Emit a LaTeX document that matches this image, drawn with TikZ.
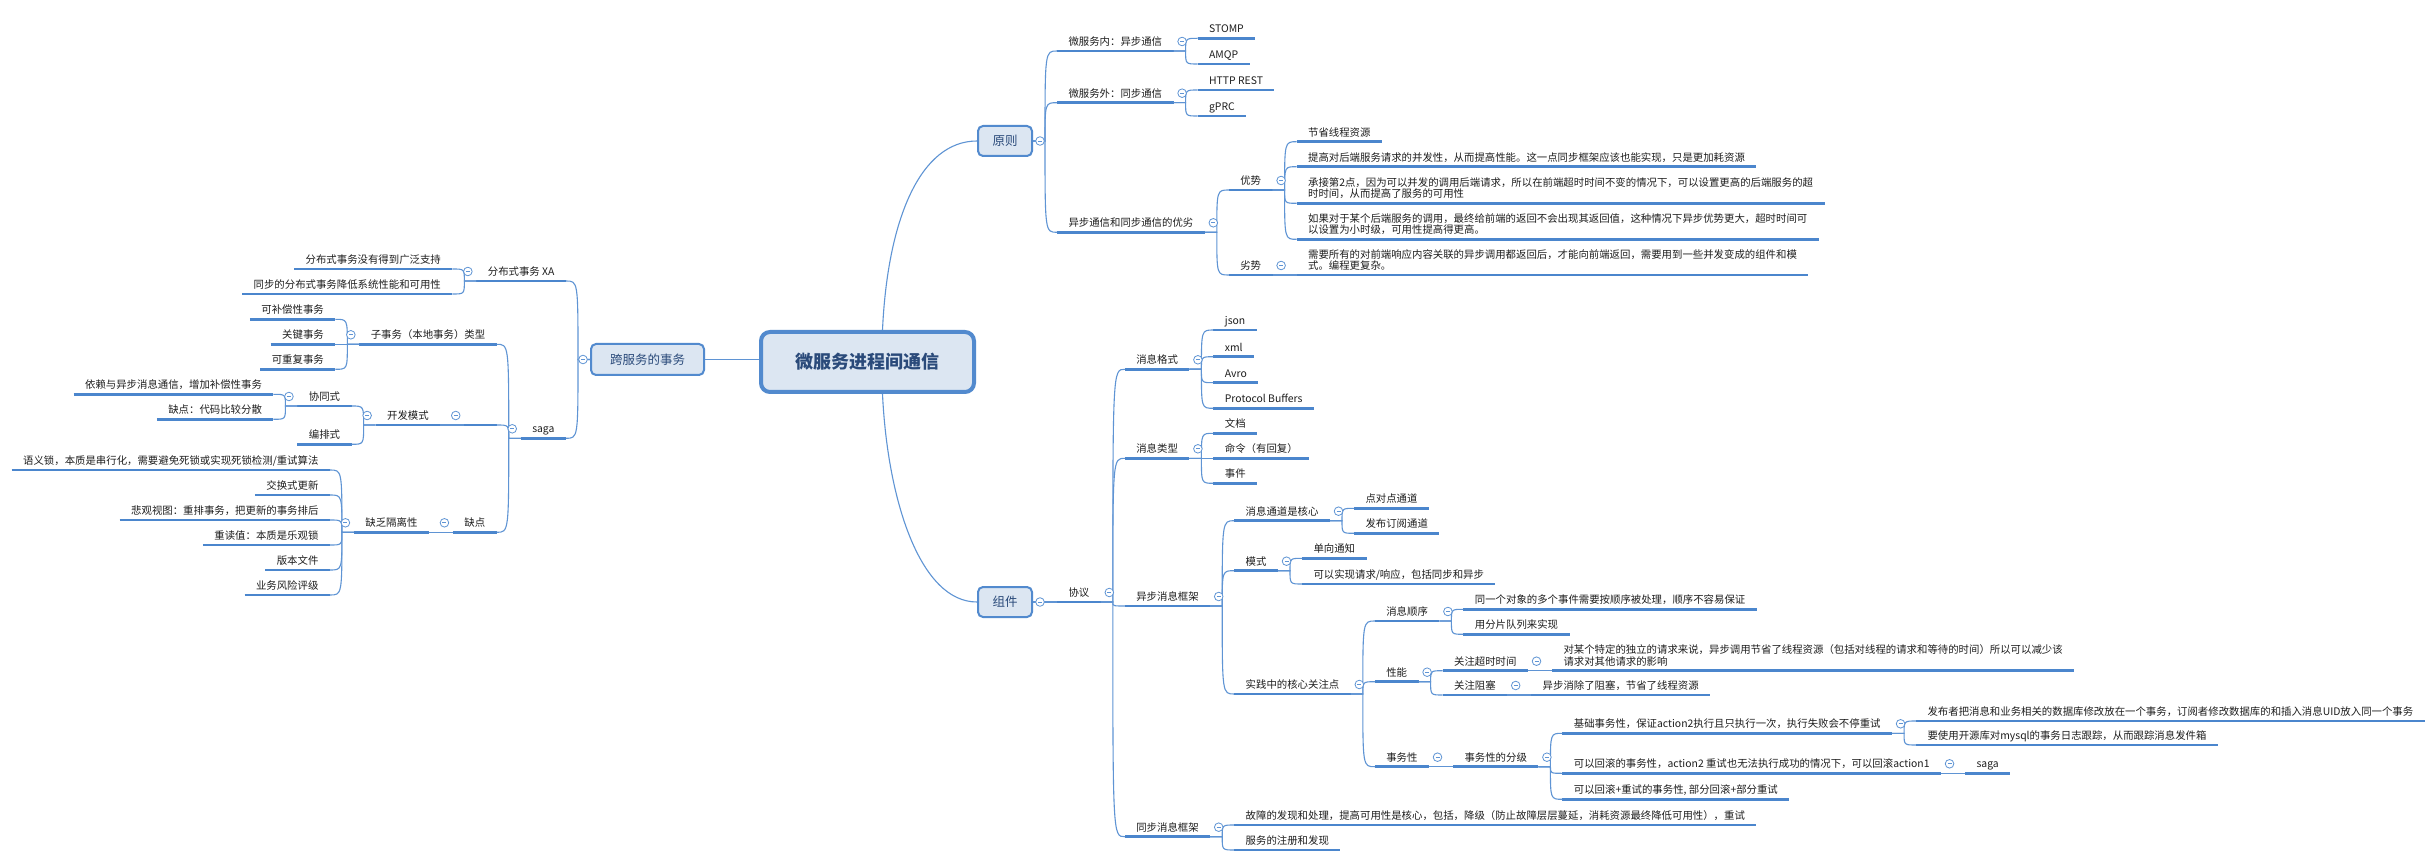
\documentclass[tikz,border=0pt]{standalone}
\usepackage{fontspec}
\newfontfamily\cjk{Noto Sans CJK SC}
\usetikzlibrary{calc}
\definecolor{tline}{RGB}{75,134,205}
\definecolor{cline}{RGB}{95,148,212}
\definecolor{mk}{RGB}{95,148,212}
\definecolor{bblue}{RGB}{82,138,206}
\definecolor{bfill}{RGB}{220,230,242}
\definecolor{ttl}{RGB}{42,74,122}
\definecolor{txt}{RGB}{30,30,30}
\newcommand\tpR[4]{%
  \node[topic, align=left, anchor=south west, xshift=24pt] (#1) at (#2 |- 0,#3) {#4};
  \draw[conn] (#2) to[brR] (#1.south west);}
\newcommand\tpL[4]{%
  \node[topic, align=right, anchor=south east, xshift=-24pt] (#1) at (#2 |- 0,#3) {#4};
  \draw[conn] (#2) to[brL] (#1.south east);}
\newcommand\mkR[1]{\node[marker] (#1-m) at ([shift={(8.5,-9.5)}]#1.south east) {};}
\newcommand\mkL[1]{\node[marker] (#1-m) at ([shift={(-8.5,-9.5)}]#1.south west) {};}
\begin{document}
\begin{tikzpicture}[x=1pt,y=-1pt,
  every node/.style={font=\cjk\fontsize{10.4}{11.5}\selectfont, text=txt},
  topic/.style={inner xsep=11.5pt, inner ysep=2pt, outer sep=0pt, execute at end node=\strut,
     append after command={(\tikzlastnode.south west) edge[uline] (\tikzlastnode.south east)}},
  uline/.style={draw=tline, line width=2.6pt},
  conn/.style={draw=cline, line width=1.1pt},
  brR/.style={to path={-- ++(12,0) coordinate (jn) .. controls (jn |- \tikztotarget) .. (\tikztotarget)}},
  brL/.style={to path={-- ++(-12,0) coordinate (jn) .. controls (jn |- \tikztotarget) .. (\tikztotarget)}},
  marker/.style={circle, draw=mk, fill=white, line width=0.8pt, minimum size=8.6pt, inner sep=0pt, outer sep=0pt,
     path picture={\draw[mk, line width=0.8pt] ([xshift=2.3pt]path picture bounding box.west) -- ([xshift=-2.3pt]path picture bounding box.east);}},
  rootbox/.style={draw=bblue, line width=4pt, fill=bfill, rounded corners=9pt, minimum width=213pt, minimum height=60pt,
     font=\cjk\bfseries\fontsize{18}{20}\selectfont, text=ttl},
  subbox/.style={draw=bblue, line width=2pt, fill=bfill, rounded corners=5pt,
     font=\cjk\fontsize{12.5}{14}\selectfont, text=ttl}]
\useasboundingbox (0,0) rectangle (2428,866);
\fill[white] (0,0) rectangle (2428,866);

% central and main topics
\node[rootbox] (root) at (867.5,362) {微服务进程间通信};
\node[subbox, minimum width=54pt, minimum height=30pt] (yz) at (1005,141) {原则};
\node[subbox, minimum width=54pt, minimum height=30pt] (zj) at (1005,602) {组件};
\node[subbox, minimum width=113pt, minimum height=31pt] (kfw) at (647.5,359.5) {跨服务的事务};
\draw[conn] (root.west |- kfw.east) -- (kfw.east);
\draw[conn] ([xshift=15pt]root.north) .. controls +(5,-110) and +(-57,0) .. (yz.west);
\draw[conn] ([xshift=15pt]root.south) .. controls +(5,106) and +(-57,0) .. (zj.west);

% ---------- 原则 ----------
\tpR{wfn}{yz.east}{51}{微服务内：异步通信}
\tpR{stomp}{wfn.south east}{38.3}{STOMP}
\tpR{amqp}{wfn.south east}{64}{AMQP}
\tpR{wfw}{yz.east}{102.7}{微服务外：同步通信}
\tpR{http}{wfw.south east}{90}{HTTP REST}
\tpR{gprc}{wfw.south east}{116}{gPRC}
\tpR{yb}{yz.east}{232.3}{异步通信和同步通信的优劣}
\tpR{ys}{yb.south east}{190}{优势}
\tpR{a1}{ys.south east}{141.7}{节省线程资源}
\tpR{a2}{ys.south east}{166.7}{提高对后端服务请求的并发性，从而提高性能。这一点同步框架应该也能实现，只是更加耗资源}
\tpR{a3}{ys.south east}{203.3}{承接第2点，因为可以并发的调用后端请求，所以在前端超时时间不变的情况下，可以设置更高的后端服务的超\\时时间，从而提高了服务的可用性}
\tpR{a4}{ys.south east}{239.3}{如果对于某个后端服务的调用，最终给前端的返回不会出现其返回值，这种情况下异步优势更大，超时时间可\\以设置为小时级，可用性提高得更高。}
\tpR{ls}{yb.south east}{275}{劣势}
\tpR{b1}{ls.south east}{275}{需要所有的对前端响应内容关联的异步调用都返回后，才能向前端返回，需要用到一些并发变成的组件和模\\式。编程更复杂。}

% ---------- 组件 ----------
\tpR{xy}{zj.east}{602}{协议}
\tpR{gs}{xy.south east}{369.3}{消息格式}
\tpR{json}{gs.south east}{330}{json}
\tpR{xml}{gs.south east}{356.7}{xml}
\tpR{avro}{gs.south east}{382.7}{Avro}
\tpR{pb}{gs.south east}{408.3}{Protocol Buffers}
\tpR{lx}{xy.south east}{458.3}{消息类型}
\tpR{wd}{lx.south east}{433.3}{文档}
\tpR{ml}{lx.south east}{458.3}{命令（有回复）}
\tpR{sjn}{lx.south east}{483.3}{事件}
\tpR{ybk}{xy.south east}{606}{异步消息框架}
\tpR{td}{ybk.south east}{520.7}{消息通道是核心}
\tpR{p2p}{td.south east}{508.3}{点对点通道}
\tpR{pub}{td.south east}{533.3}{发布订阅通道}
\tpR{ms}{ybk.south east}{570.7}{模式}
\tpR{dx}{ms.south east}{558.3}{单向通知}
\tpR{qq}{ms.south east}{584}{可以实现请求/响应，包括同步和异步}
\tpR{sj}{ybk.south east}{694}{实践中的核心关注点}
\tpR{sx}{sj.south east}{621}{消息顺序}
\tpR{sx1}{sx.south east}{609.3}{同一个对象的多个事件需要按顺序被处理，顺序不容易保证}
\tpR{sx2}{sx.south east}{634.3}{用分片队列来实现}
\tpR{xn}{sj.south east}{681.7}{性能}
\tpR{cs}{xn.south east}{670.7}{关注超时时间}
\tpR{cs1}{cs.south east}{670.7}{对某个特定的独立的请求来说，异步调用节省了线程资源（包括对线程的请求和等待的时间）所以可以减少该\\请求对其他请求的影响}
\tpR{zs}{xn.south east}{695}{关注阻塞}
\tpR{zs1}{zs.south east}{695}{异步消除了阻塞，节省了线程资源}
\tpR{sw}{sj.south east}{766.7}{事务性}
\tpR{fj}{sw.south east}{766.7}{事务性的分级}
\tpR{jc}{fj.south east}{733.3}{基础事务性，保证action2执行且只执行一次，执行失败会不停重试}
\tpR{jc1}{jc.south east}{721}{发布者把消息和业务相关的数据库修改放在一个事务，订阅者修改数据库的和插入消息UID放入同一个事务}
\tpR{jc2}{jc.south east}{745}{要使用开源库对mysql的事务日志跟踪，从而跟踪消息发件箱}
\tpR{hg}{fj.south east}{773.3}{可以回滚的事务性，action2 重试也无法执行成功的情况下，可以回滚action1}
\tpR{sg2}{hg.south east}{773.3}{saga}
\tpR{cr}{fj.south east}{799.3}{可以回滚+重试的事务性, 部分回滚+部分重试}
\tpR{tb}{xy.south east}{836.7}{同步消息框架}
\tpR{gz}{tb.south east}{825}{故障的发现和处理，提高可用性是核心，包括，降级（防止故障层层蔓延，消耗资源最终降低可用性），重试}
\tpR{zc}{tb.south east}{850}{服务的注册和发现}

% ---------- 跨服务的事务 ----------
\tpL{xa}{kfw.west}{281}{分布式事务 XA}
\tpL{xa1}{xa.south west}{269}{分布式事务没有得到广泛支持}
\tpL{xa2}{xa.south west}{294}{同步的分布式事务降低系统性能和可用性}
\tpL{saga}{kfw.west}{438.3}{saga}
\tpL{zsw}{saga.south west}{344.3}{子事务（本地事务）类型}
\tpL{kb}{zsw.south west}{319.3}{可补偿性事务}
\tpL{gj}{zsw.south west}{344.3}{关键事务}
\tpL{cf}{zsw.south west}{369.3}{可重复事务}
\node[topic, align=right, anchor=south east, xshift=-24pt, minimum width=32.5pt] (em) at (saga.south west |- 0,425) {};
\draw[conn] (saga.south west) to[brL] (em.south east);
\tpL{kf}{em.south west}{425}{开发模式}
\tpL{xt}{kf.south west}{406}{协同式}
\tpL{xt1}{xt.south west}{394.3}{依赖与异步消息通信，增加补偿性事务}
\tpL{xt2}{xt.south west}{419.3}{缺点：代码比较分散}
\tpL{bp}{kf.south west}{444.3}{编排式}
\tpL{qd}{saga.south west}{532.3}{缺点}
\tpL{gl}{qd.south west}{532.3}{缺乏隔离性}
\tpL{g1}{gl.south west}{470}{语义锁，本质是串行化，需要避免死锁或实现死锁检测/重试算法}
\tpL{g2}{gl.south west}{495}{交换式更新}
\tpL{g3}{gl.south west}{520}{悲观视图：重排事务，把更新的事务排后}
\tpL{g4}{gl.south west}{545}{重读值：本质是乐观锁}
\tpL{g5}{gl.south west}{570}{版本文件}
\tpL{g6}{gl.south west}{595}{业务风险评级}

% ---------- collapse markers ----------
\node[marker] (yz-m) at ([xshift=7pt]yz.east) {};
\node[marker] (zj-m) at ([xshift=7pt]zj.east) {};
\node[marker] (kfw-m) at ([xshift=-7pt]kfw.west) {};
\foreach \n in {wfn,wfw,yb,ys,ls,xy,gs,lx,ybk,td,ms,sj,sx,xn,cs,zs,sw,fj,jc,hg,tb}{\mkR{\n}}
\foreach \n in {xa,saga,zsw,em,kf,xt,qd,gl}{\mkL{\n}}
\end{tikzpicture}
\end{document}
